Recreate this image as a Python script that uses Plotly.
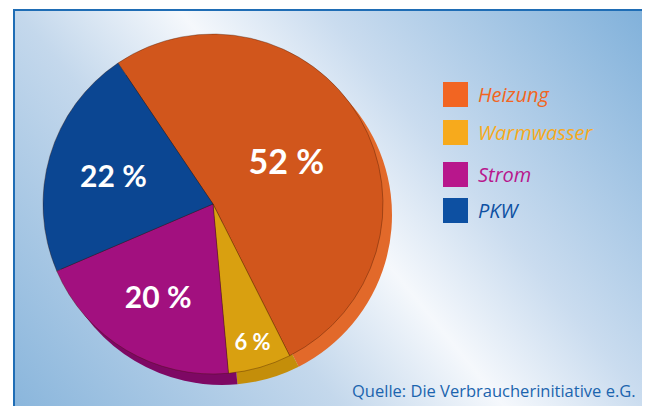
import base64
import plotly.graph_objects as go

# ---- data ----
categories = ["Heizung", "Warmwasser", "Strom", "PKW"]
shares = [52, 6, 20, 22]
face_colors = ["#D1561C", "#D9A010", "#A2107F", "#0B4692"]
side_colors = ["#E2692A", "#C48E0A", "#7E0864", "#083A7A"]
legend_colors = ["#F26522", "#F7AA1C", "#B8178C", "#0D50A2"]
label_sizes = [34, 22, 30, 30]
source_text = "Quelle: Die Verbraucherinitiative e.G."

# the page body has an 8px margin; the figure starts there
OFF = 8
W, H = 650 - OFF, 406 - OFF

def px_x(v):
    return (v - OFF) / W

def px_y(v):
    return 1 - (v - OFF) / H

# pie geometry (page pixels)
cx, cy, r = 213, 204, 170
dx3d, dy3d = 9, 11

fig = go.Figure()

# 3D side (drawn first, behind)
fig.add_trace(go.Pie(
    labels=categories, values=shares, sort=False, direction="clockwise",
    rotation=-34,
    marker=dict(colors=side_colors, line=dict(width=0)),
    textinfo="none", hoverinfo="skip", showlegend=False,
    domain=dict(x=[px_x(cx + dx3d - r), px_x(cx + dx3d + r)],
                y=[px_y(cy + dy3d + r), px_y(cy + dy3d - r)]),
))

# top face
fig.add_trace(go.Pie(
    labels=categories, values=shares, sort=False, direction="clockwise",
    rotation=-34,
    marker=dict(colors=face_colors, line=dict(width=1, color="rgba(60,20,0,0.35)")),
    texttemplate="%{value} %", textposition="inside",
    insidetextorientation="horizontal",
    textfont=dict(family="Lato, Open Sans, sans-serif", size=label_sizes,
                  color="white", weight="bold"),
    showlegend=False,
    domain=dict(x=[px_x(cx - r), px_x(cx + r)],
                y=[px_y(cy + r), px_y(cy - r)]),
))

# background gradient as SVG image (frame from page x=14, y=10 to the window edge)
bw, bh = 650 - 14, 406 - 10
svg = f'''<svg xmlns="http://www.w3.org/2000/svg" width="{bw}" height="{bh}" viewBox="0 0 {bw} {bh}" preserveAspectRatio="none">
<defs><linearGradient id="g" gradientUnits="userSpaceOnUse" x1="-128" y1="241" x2="448" y2="-231">
<stop offset="0" stop-color="#8AB6DC"/>
<stop offset="0.34" stop-color="#C4D8EC"/>
<stop offset="0.51" stop-color="#F5F8FC"/>
<stop offset="0.66" stop-color="#CADCEF"/>
<stop offset="1" stop-color="#7FB0DA"/>
</linearGradient></defs>
<rect x="0" y="0" width="{bw}" height="{bh}" fill="url(#g)"/>
</svg>'''
src = "data:image/svg+xml;base64," + base64.b64encode(svg.encode()).decode()

shapes = [
    dict(type="rect", xref="paper", yref="paper",
         x0=px_x(14), y0=px_y(406 + 5), x1=px_x(650 + 5), y1=px_y(10),
         line=dict(color="#1F6DB5", width=2), fillcolor="rgba(0,0,0,0)", layer="above"),
]
annotations = []

# manual legend
legend_tops = [82, 120, 162, 198]
sw = 25
for name, col, top in zip(categories, legend_colors, legend_tops):
    shapes.append(dict(type="rect", xref="paper", yref="paper",
                       x0=px_x(443), x1=px_x(443 + sw), y0=px_y(top + sw), y1=px_y(top),
                       fillcolor=col, line=dict(width=0)))
    annotations.append(dict(xref="paper", yref="paper", x=px_x(476), y=px_y(top + sw / 2),
                            xanchor="left", yanchor="middle", showarrow=False,
                            text=f"<i>{name}</i>",
                            font=dict(family="Open Sans, sans-serif", size=20, color=col)))

annotations.append(dict(xref="paper", yref="paper", x=px_x(638), y=px_y(390),
                        xanchor="right", yanchor="middle", showarrow=False,
                        text=source_text,
                        font=dict(family="Open Sans, sans-serif", size=16.5, color="#1B64AE")))

fig.update_layout(
    width=W, height=H, margin=dict(l=0, r=0, t=0, b=0),
    paper_bgcolor="white", plot_bgcolor="white",
    images=[dict(source=src, xref="paper", yref="paper", x=px_x(14), y=px_y(10),
                 sizex=bw / W, sizey=bh / H, xanchor="left", yanchor="top",
                 sizing="stretch", layer="below")],
    shapes=shapes, annotations=annotations, showlegend=False,
)

fig.write_html("out.html")
